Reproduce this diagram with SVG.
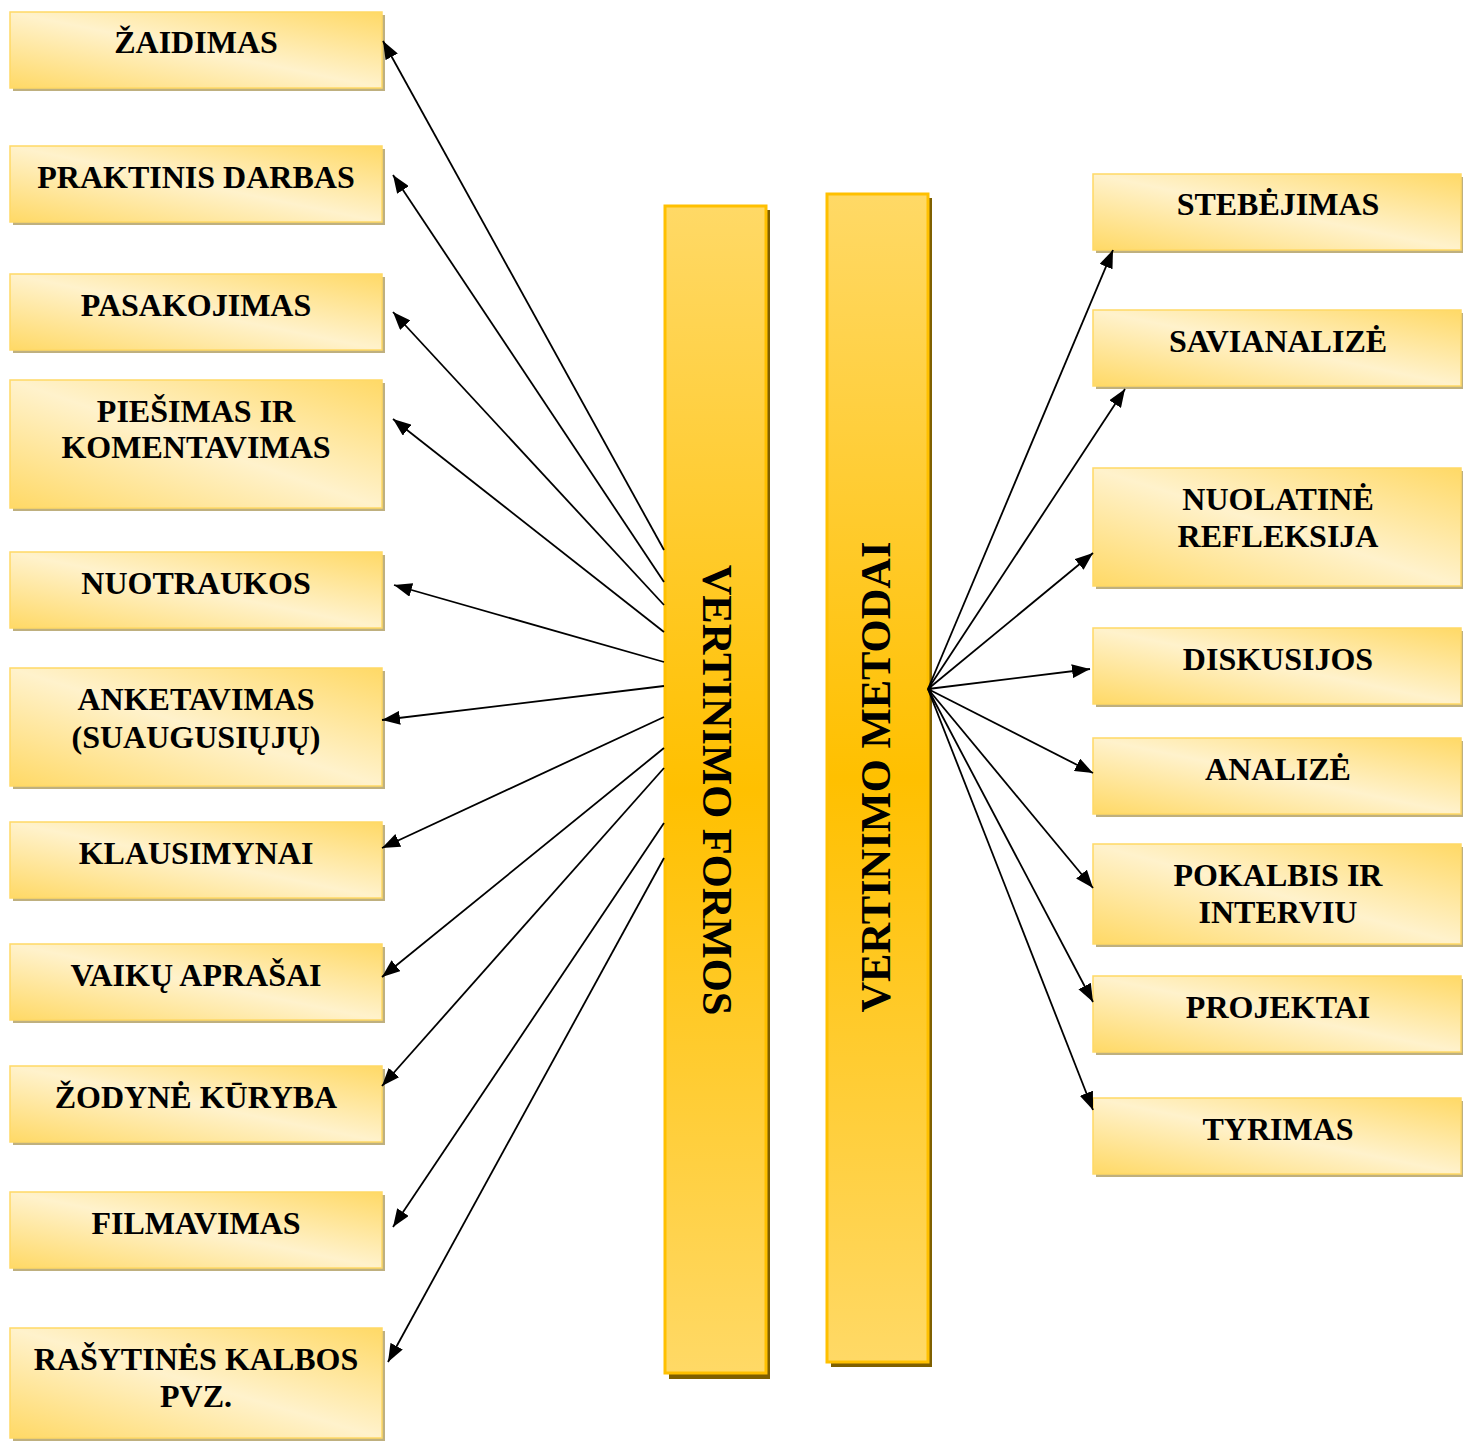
<svg xmlns="http://www.w3.org/2000/svg" width="1463" height="1443" viewBox="0 0 1463 1443">
<defs>
<linearGradient id="boxg" x1="1" y1="0" x2="0" y2="1">
<stop offset="0" stop-color="#FFD966"/>
<stop offset="0.5" stop-color="#FFF2CC"/>
<stop offset="1" stop-color="#FFD966"/>
</linearGradient>
<linearGradient id="barg" x1="0" y1="0" x2="0" y2="1">
<stop offset="0" stop-color="#FFD966"/>
<stop offset="0.5" stop-color="#FFC000"/>
<stop offset="1" stop-color="#FFD966"/>
</linearGradient>
<marker id="ah" markerUnits="userSpaceOnUse" markerWidth="20" markerHeight="14" refX="18" refY="7" orient="auto">
<path d="M0,0 L18,7 L0,14 Z" fill="#000"/>
</marker>
</defs>
<style>
.sh{fill:#BFB07F}
.bx{fill:url(#boxg);stroke:#FFD966;stroke-width:1.5}
.bsh{fill:#7F6000}
.bar{fill:url(#barg);stroke:#FFC000;stroke-width:3}
.t{font-family:"Liberation Serif","Times New Roman",serif;font-weight:bold;font-size:32px;fill:#000;text-anchor:middle}
.vt{font-family:"Liberation Serif","Times New Roman",serif;font-weight:bold;font-size:42.5px;fill:#000;text-anchor:middle}
.c line{stroke:#000;stroke-width:1.8;marker-end:url(#ah)}
</style>
<rect width="1463" height="1443" fill="#fff"/>

<g id="bar-formos">
<rect class="bsh" x="669" y="210" width="101" height="1169"/>
<rect class="bar" x="665" y="206" width="101" height="1167"/>
<text class="vt" transform="translate(703,790) rotate(90)">VERTINIMO FORMOS</text>
</g>
<g id="bar-metodai">
<rect class="bsh" x="831" y="198" width="101" height="1169"/>
<rect class="bar" x="827" y="194" width="101" height="1168"/>
<text class="vt" transform="translate(890,777) rotate(-90)">VERTINIMO METODAI</text>
</g>

<g id="l1"><rect class="sh" x="13" y="15" width="372" height="76"/><rect class="bx" x="10" y="12" width="372" height="76"/><text class="t" x="196" y="53">ŽAIDIMAS</text></g>
<g id="l2"><rect class="sh" x="13" y="149" width="372" height="76"/><rect class="bx" x="10" y="146" width="372" height="76"/><text class="t" x="196" y="188">PRAKTINIS DARBAS</text></g>
<g id="l3"><rect class="sh" x="13" y="277" width="372" height="76"/><rect class="bx" x="10" y="274" width="372" height="76"/><text class="t" x="196" y="316">PASAKOJIMAS</text></g>
<g id="l4"><rect class="sh" x="13" y="383" width="372" height="128"/><rect class="bx" x="10" y="380" width="372" height="128"/><text class="t" x="196" y="422">PIEŠIMAS IR</text><text class="t" x="196" y="458">KOMENTAVIMAS</text></g>
<g id="l5"><rect class="sh" x="13" y="555" width="372" height="76"/><rect class="bx" x="10" y="552" width="372" height="76"/><text class="t" x="196" y="594">NUOTRAUKOS</text></g>
<g id="l6"><rect class="sh" x="13" y="671" width="372" height="118"/><rect class="bx" x="10" y="668" width="372" height="118"/><text class="t" x="196" y="710">ANKETAVIMAS</text><text class="t" x="196" y="748">(SUAUGUSIŲJŲ)</text></g>
<g id="l7"><rect class="sh" x="13" y="825" width="372" height="76"/><rect class="bx" x="10" y="822" width="372" height="76"/><text class="t" x="196" y="864">KLAUSIMYNAI</text></g>
<g id="l8"><rect class="sh" x="13" y="947" width="372" height="76"/><rect class="bx" x="10" y="944" width="372" height="76"/><text class="t" x="196" y="986">VAIKŲ APRAŠAI</text></g>
<g id="l9"><rect class="sh" x="13" y="1069" width="372" height="76"/><rect class="bx" x="10" y="1066" width="372" height="76"/><text class="t" x="196" y="1108">ŽODYNĖ KŪRYBA</text></g>
<g id="l10"><rect class="sh" x="13" y="1195" width="372" height="76"/><rect class="bx" x="10" y="1192" width="372" height="76"/><text class="t" x="196" y="1234">FILMAVIMAS</text></g>
<g id="l11"><rect class="sh" x="13" y="1331" width="372" height="110"/><rect class="bx" x="10" y="1328" width="372" height="110"/><text class="t" x="196" y="1370">RAŠYTINĖS KALBOS</text><text class="t" x="196" y="1407">PVZ.</text></g>

<g id="r1"><rect class="sh" x="1096" y="177" width="368" height="76"/><rect class="bx" x="1093" y="174" width="368" height="76"/><text class="t" x="1278" y="215">STEBĖJIMAS</text></g>
<g id="r2"><rect class="sh" x="1096" y="313" width="368" height="76"/><rect class="bx" x="1093" y="310" width="368" height="76"/><text class="t" x="1278" y="352">SAVIANALIZĖ</text></g>
<g id="r3"><rect class="sh" x="1096" y="471" width="368" height="118"/><rect class="bx" x="1093" y="468" width="368" height="118"/><text class="t" x="1278" y="510">NUOLATINĖ</text><text class="t" x="1278" y="547">REFLEKSIJA</text></g>
<g id="r4"><rect class="sh" x="1096" y="631" width="368" height="76"/><rect class="bx" x="1093" y="628" width="368" height="76"/><text class="t" x="1278" y="670">DISKUSIJOS</text></g>
<g id="r5"><rect class="sh" x="1096" y="741" width="368" height="76"/><rect class="bx" x="1093" y="738" width="368" height="76"/><text class="t" x="1278" y="780">ANALIZĖ</text></g>
<g id="r6"><rect class="sh" x="1096" y="847" width="368" height="100"/><rect class="bx" x="1093" y="844" width="368" height="100"/><text class="t" x="1278" y="886">POKALBIS IR</text><text class="t" x="1278" y="923">INTERVIU</text></g>
<g id="r7"><rect class="sh" x="1096" y="979" width="368" height="76"/><rect class="bx" x="1093" y="976" width="368" height="76"/><text class="t" x="1278" y="1018">PROJEKTAI</text></g>
<g id="r8"><rect class="sh" x="1096" y="1101" width="368" height="76"/><rect class="bx" x="1093" y="1098" width="368" height="76"/><text class="t" x="1278" y="1140">TYRIMAS</text></g>

<g id="connectors" class="c">
<line x1="664" y1="550" x2="383" y2="41"/>
<line x1="664" y1="582" x2="393" y2="175"/>
<line x1="664" y1="605" x2="393" y2="312"/>
<line x1="664" y1="632" x2="393" y2="419"/>
<line x1="664" y1="662" x2="394" y2="585"/>
<line x1="664" y1="686" x2="382" y2="720"/>
<line x1="664" y1="717" x2="382" y2="848"/>
<line x1="664" y1="748" x2="382" y2="977"/>
<line x1="664" y1="768" x2="382" y2="1086"/>
<line x1="664" y1="823" x2="393" y2="1227"/>
<line x1="664" y1="858" x2="388" y2="1362"/>
<line x1="928" y1="689" x2="1113" y2="250"/>
<line x1="928" y1="689" x2="1125" y2="389"/>
<line x1="928" y1="689" x2="1093" y2="553"/>
<line x1="928" y1="689" x2="1090" y2="669"/>
<line x1="928" y1="689" x2="1093" y2="773"/>
<line x1="928" y1="689" x2="1093" y2="888"/>
<line x1="928" y1="689" x2="1093" y2="1002"/>
<line x1="928" y1="689" x2="1093" y2="1110"/>
</g>
</svg>
